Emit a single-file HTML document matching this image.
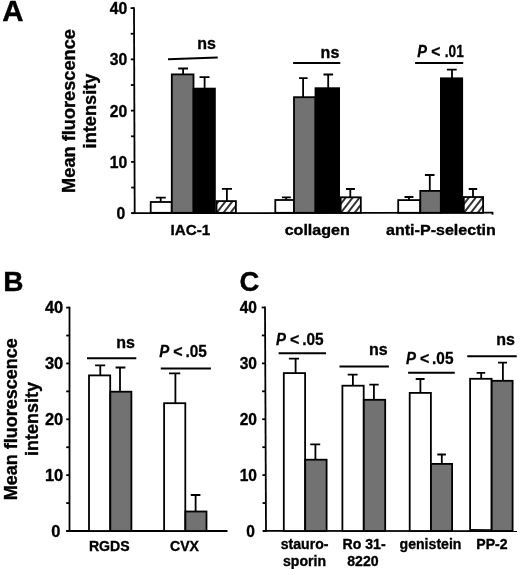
<!DOCTYPE html>
<html><head><meta charset="utf-8"><title>Figure</title>
<style>
html,body{margin:0;padding:0;background:#fff;overflow:hidden;}
svg{display:block;filter:blur(0.45px);}
text{font-family:"Liberation Sans",sans-serif;font-weight:bold;fill:#000;stroke:#000;}
</style></head>
<body>
<svg width="520" height="569" viewBox="0 0 520 569">
<rect width="520" height="569" fill="#fff"/>
<text transform="translate(2.20 21.20) scale(1.0 1)" font-size="29.5" text-anchor="start" stroke-width="0.35">A</text>
<line x1="134.00" y1="7.20" x2="134.70" y2="214.10" stroke="#000" stroke-width="1.8"/>
<line x1="131.30" y1="213.20" x2="134.70" y2="213.20" stroke="#000" stroke-width="1.8"/>
<line x1="131.21" y1="187.56" x2="134.61" y2="187.56" stroke="#000" stroke-width="1.8"/>
<line x1="131.12" y1="161.92" x2="134.52" y2="161.92" stroke="#000" stroke-width="1.8"/>
<line x1="131.04" y1="136.29" x2="134.44" y2="136.29" stroke="#000" stroke-width="1.8"/>
<line x1="130.95" y1="110.65" x2="134.35" y2="110.65" stroke="#000" stroke-width="1.8"/>
<line x1="130.86" y1="85.01" x2="134.26" y2="85.01" stroke="#000" stroke-width="1.8"/>
<line x1="130.78" y1="59.38" x2="134.18" y2="59.38" stroke="#000" stroke-width="1.8"/>
<line x1="130.69" y1="33.74" x2="134.09" y2="33.74" stroke="#000" stroke-width="1.8"/>
<line x1="130.60" y1="8.10" x2="134.00" y2="8.10" stroke="#000" stroke-width="1.8"/>
<line x1="131.30" y1="213.20" x2="493.30" y2="212.70" stroke="#000" stroke-width="1.8"/>
<line x1="492.50" y1="212.70" x2="492.50" y2="214.70" stroke="#000" stroke-width="1.8"/>
<text transform="translate(127.30 14.20) scale(1.0 1)" font-size="15.7" text-anchor="end" stroke-width="0.35">40</text>
<text transform="translate(127.30 65.42) scale(1.0 1)" font-size="15.7" text-anchor="end" stroke-width="0.35">30</text>
<text transform="translate(127.30 116.65) scale(1.0 1)" font-size="15.7" text-anchor="end" stroke-width="0.35">20</text>
<text transform="translate(127.30 167.88) scale(1.0 1)" font-size="15.7" text-anchor="end" stroke-width="0.35">10</text>
<text transform="translate(125.30 219.10) scale(1.0 1)" font-size="15.7" text-anchor="end" stroke-width="0.35">0</text>
<text transform="translate(75.10 111.00) rotate(-90) scale(1.0 1)" font-size="18.2" text-anchor="middle" stroke-width="0.35">Mean fluorescence</text>
<text transform="translate(96.00 111.00) rotate(-90) scale(1.0 1)" font-size="18.2" text-anchor="middle" stroke-width="0.35">intensity</text>
<rect x="150.70" y="202.00" width="21.00" height="10.80" fill="#fff" stroke="#000" stroke-width="1.8"/>
<path d="M160.70 202.10V197.60M155.90 197.60H165.80" fill="none" stroke="#000" stroke-width="1.8"/>
<rect x="171.80" y="74.40" width="21.70" height="138.40" fill="#727272" stroke="#000" stroke-width="1.8"/>
<path d="M183.10 74.50V68.50M178.20 68.50H188.00" fill="none" stroke="#000" stroke-width="1.8"/>
<rect x="193.60" y="88.60" width="21.30" height="124.20" fill="#000" stroke="#000" stroke-width="1.8"/>
<path d="M204.60 88.70V77.20M199.50 77.20H209.50" fill="none" stroke="#000" stroke-width="1.8"/>
<clipPath id="c26"><rect x="216.50" y="201.10" width="19.40" height="11.70"/></clipPath>
<rect x="216.50" y="201.10" width="19.40" height="11.70" fill="#fff"/>
<path d="M194.34 214.80L208.15 197.10M201.24 214.80L215.05 197.10M208.14 214.80L221.95 197.10M215.04 214.80L228.85 197.10M221.94 214.80L235.75 197.10M228.84 214.80L242.65 197.10M235.74 214.80L249.55 197.10" stroke="#333" stroke-width="2.0" fill="none" clip-path="url(#c26)"/>
<rect x="216.50" y="201.10" width="19.40" height="11.70" fill="none" stroke="#000" stroke-width="1.8"/>
<path d="M226.90 201.20V188.90M221.90 188.90H232.00" fill="none" stroke="#000" stroke-width="1.8"/>
<line x1="168.00" y1="59.20" x2="217.70" y2="57.60" stroke="#000" stroke-width="2.0"/>
<text transform="translate(215.90 49.00) scale(0.97 1)" font-size="16.5" text-anchor="end" stroke-width="0.35">ns</text>
<text transform="translate(190.30 235.00) scale(0.99 1)" font-size="15.4" text-anchor="middle" stroke-width="0.35">IAC-1</text>
<rect x="275.30" y="200.00" width="18.70" height="12.80" fill="#fff" stroke="#000" stroke-width="1.8"/>
<path d="M286.20 200.10V197.30M281.90 197.30H290.80" fill="none" stroke="#000" stroke-width="1.8"/>
<rect x="294.00" y="97.20" width="21.50" height="115.60" fill="#727272" stroke="#000" stroke-width="1.8"/>
<path d="M303.10 97.30V78.10M299.00 78.10H307.60" fill="none" stroke="#000" stroke-width="1.8"/>
<rect x="315.50" y="88.20" width="23.60" height="124.60" fill="#000" stroke="#000" stroke-width="1.8"/>
<path d="M328.20 88.30V74.50M323.50 74.50H333.10" fill="none" stroke="#000" stroke-width="1.8"/>
<clipPath id="c40"><rect x="340.70" y="197.30" width="20.10" height="15.50"/></clipPath>
<rect x="340.70" y="197.30" width="20.10" height="15.50" fill="#fff"/>
<path d="M318.54 214.80L335.31 193.30M325.44 214.80L342.21 193.30M332.34 214.80L349.11 193.30M339.24 214.80L356.01 193.30M346.14 214.80L362.91 193.30M353.04 214.80L369.81 193.30M359.94 214.80L376.71 193.30" stroke="#333" stroke-width="2.0" fill="none" clip-path="url(#c40)"/>
<rect x="340.70" y="197.30" width="20.10" height="15.50" fill="none" stroke="#000" stroke-width="1.8"/>
<path d="M350.30 197.40V189.00M346.00 189.00H354.90" fill="none" stroke="#000" stroke-width="1.8"/>
<line x1="293.10" y1="63.10" x2="340.30" y2="63.10" stroke="#000" stroke-width="2.0"/>
<text transform="translate(339.30 57.70) scale(0.97 1)" font-size="16.5" text-anchor="end" stroke-width="0.35">ns</text>
<text transform="translate(317.20 235.00) scale(1.05 1)" font-size="15.3" text-anchor="middle" stroke-width="0.35">collagen</text>
<rect x="398.20" y="200.10" width="22.00" height="12.70" fill="#fff" stroke="#000" stroke-width="1.8"/>
<path d="M409.00 200.20V197.00M404.50 197.00H413.40" fill="none" stroke="#000" stroke-width="1.8"/>
<rect x="420.30" y="190.90" width="20.50" height="21.90" fill="#727272" stroke="#000" stroke-width="1.8"/>
<path d="M429.80 191.00V175.00M424.90 175.00H434.50" fill="none" stroke="#000" stroke-width="1.8"/>
<rect x="440.90" y="78.30" width="21.30" height="134.50" fill="#000" stroke="#000" stroke-width="1.8"/>
<path d="M452.00 78.40V69.60M446.90 69.60H456.70" fill="none" stroke="#000" stroke-width="1.8"/>
<clipPath id="c54"><rect x="463.80" y="197.05" width="19.30" height="15.75"/></clipPath>
<rect x="463.80" y="197.05" width="19.30" height="15.75" fill="#fff"/>
<path d="M441.64 214.80L458.61 193.05M448.54 214.80L465.50 193.05M455.44 214.80L472.40 193.05M462.34 214.80L479.30 193.05M469.24 214.80L486.20 193.05M476.14 214.80L493.10 193.05M483.04 214.80L500.00 193.05" stroke="#333" stroke-width="2.0" fill="none" clip-path="url(#c54)"/>
<rect x="463.80" y="197.05" width="19.30" height="15.75" fill="none" stroke="#000" stroke-width="1.8"/>
<path d="M473.00 197.15V189.00M468.70 189.00H477.20" fill="none" stroke="#000" stroke-width="1.8"/>
<line x1="415.10" y1="62.90" x2="463.20" y2="62.90" stroke="#000" stroke-width="2.0"/>
<text transform="translate(417.20 57.20) scale(0.93 1)" font-size="15.7" text-anchor="start" stroke-width="0.3"><tspan font-style="italic">P</tspan></text>
<text transform="translate(431.20 57.20) scale(1.0 1)" font-size="15.7" text-anchor="start" stroke-width="0.3">&lt;</text>
<text transform="translate(444.80 57.20) scale(0.87 1)" font-size="15.7" text-anchor="start" stroke-width="0.3">.01</text>
<text transform="translate(440.90 234.80) scale(1.05 1)" font-size="15.3" text-anchor="middle" stroke-width="0.35">anti-P-selectin</text>
<text transform="translate(3.20 291.30) scale(1.02 1)" font-size="27.5" text-anchor="start" stroke-width="0.35">B</text>
<line x1="69.50" y1="306.70" x2="69.50" y2="531.90" stroke="#000" stroke-width="1.8"/>
<line x1="66.20" y1="531.00" x2="69.50" y2="531.00" stroke="#000" stroke-width="1.8"/>
<line x1="66.20" y1="503.07" x2="69.50" y2="503.07" stroke="#000" stroke-width="1.8"/>
<line x1="66.20" y1="475.15" x2="69.50" y2="475.15" stroke="#000" stroke-width="1.8"/>
<line x1="66.20" y1="447.23" x2="69.50" y2="447.23" stroke="#000" stroke-width="1.8"/>
<line x1="66.20" y1="419.30" x2="69.50" y2="419.30" stroke="#000" stroke-width="1.8"/>
<line x1="66.20" y1="391.38" x2="69.50" y2="391.38" stroke="#000" stroke-width="1.8"/>
<line x1="66.20" y1="363.45" x2="69.50" y2="363.45" stroke="#000" stroke-width="1.8"/>
<line x1="66.20" y1="335.53" x2="69.50" y2="335.53" stroke="#000" stroke-width="1.8"/>
<line x1="66.20" y1="307.60" x2="69.50" y2="307.60" stroke="#000" stroke-width="1.8"/>
<line x1="66.20" y1="531.00" x2="227.50" y2="531.00" stroke="#000" stroke-width="1.8"/>
<text transform="translate(63.30 313.20) scale(0.97 1)" font-size="17.0" text-anchor="end" stroke-width="0.35">40</text>
<text transform="translate(63.30 369.05) scale(0.97 1)" font-size="17.0" text-anchor="end" stroke-width="0.35">30</text>
<text transform="translate(63.30 424.90) scale(0.97 1)" font-size="17.0" text-anchor="end" stroke-width="0.35">20</text>
<text transform="translate(63.30 480.75) scale(0.97 1)" font-size="17.0" text-anchor="end" stroke-width="0.35">10</text>
<text transform="translate(60.50 536.60) scale(0.97 1)" font-size="17.0" text-anchor="end" stroke-width="0.35">0</text>
<text transform="translate(17.10 419.30) rotate(-90) scale(1.0 1)" font-size="18.0" text-anchor="middle" stroke-width="0.35">Mean fluorescence</text>
<text transform="translate(38.20 419.00) rotate(-90) scale(1.0 1)" font-size="18.0" text-anchor="middle" stroke-width="0.35">intensity</text>
<rect x="89.00" y="375.40" width="21.20" height="155.60" fill="#fff" stroke="#000" stroke-width="1.8"/>
<path d="M100.30 375.50V365.30M95.10 365.30H105.20" fill="none" stroke="#000" stroke-width="1.8"/>
<rect x="110.30" y="391.70" width="21.10" height="139.30" fill="#727272" stroke="#000" stroke-width="1.8"/>
<path d="M120.00 391.80V367.50M115.60 367.50H125.40" fill="none" stroke="#000" stroke-width="1.8"/>
<line x1="87.00" y1="358.20" x2="136.30" y2="358.20" stroke="#000" stroke-width="2.0"/>
<text transform="translate(134.90 348.00) scale(0.97 1)" font-size="16.5" text-anchor="end" stroke-width="0.35">ns</text>
<rect x="164.10" y="403.20" width="21.20" height="127.80" fill="#fff" stroke="#000" stroke-width="1.8"/>
<path d="M175.40 403.30V373.40M169.00 373.40H180.30" fill="none" stroke="#000" stroke-width="1.8"/>
<rect x="185.40" y="511.50" width="21.10" height="19.50" fill="#727272" stroke="#000" stroke-width="1.8"/>
<path d="M195.60 511.60V495.00M190.80 495.00H200.40" fill="none" stroke="#000" stroke-width="1.8"/>
<line x1="160.80" y1="368.50" x2="210.90" y2="368.50" stroke="#000" stroke-width="2.0"/>
<text transform="translate(159.30 357.00) scale(0.88 1)" font-size="17.0" text-anchor="start" stroke-width="0.3"><tspan font-style="italic">P</tspan></text>
<text transform="translate(173.30 357.00) scale(0.94 1)" font-size="17.0" text-anchor="start" stroke-width="0.3">&lt;</text>
<text transform="translate(185.50 357.00) scale(0.905 1)" font-size="17.0" text-anchor="start" stroke-width="0.3">.05</text>
<text transform="translate(109.30 550.50) scale(0.98 1)" font-size="14.4" text-anchor="middle" stroke-width="0.35">RGDS</text>
<text transform="translate(184.50 550.50) scale(0.98 1)" font-size="14.4" text-anchor="middle" stroke-width="0.35">CVX</text>
<text transform="translate(239.40 291.20) scale(1.0 1)" font-size="27.5" text-anchor="start" stroke-width="0.35">C</text>
<line x1="265.00" y1="306.60" x2="266.00" y2="531.90" stroke="#000" stroke-width="1.8"/>
<line x1="262.70" y1="531.00" x2="266.00" y2="531.00" stroke="#000" stroke-width="1.8"/>
<line x1="262.58" y1="503.06" x2="265.88" y2="503.06" stroke="#000" stroke-width="1.8"/>
<line x1="262.45" y1="475.12" x2="265.75" y2="475.12" stroke="#000" stroke-width="1.8"/>
<line x1="262.33" y1="447.19" x2="265.62" y2="447.19" stroke="#000" stroke-width="1.8"/>
<line x1="262.20" y1="419.25" x2="265.50" y2="419.25" stroke="#000" stroke-width="1.8"/>
<line x1="262.08" y1="391.31" x2="265.38" y2="391.31" stroke="#000" stroke-width="1.8"/>
<line x1="261.95" y1="363.38" x2="265.25" y2="363.38" stroke="#000" stroke-width="1.8"/>
<line x1="261.83" y1="335.44" x2="265.12" y2="335.44" stroke="#000" stroke-width="1.8"/>
<line x1="261.70" y1="307.50" x2="265.00" y2="307.50" stroke="#000" stroke-width="1.8"/>
<line x1="262.80" y1="530.80" x2="517.00" y2="531.20" stroke="#000" stroke-width="1.8"/>
<text transform="translate(257.00 313.00) scale(0.915 1)" font-size="17.0" text-anchor="end" stroke-width="0.35">40</text>
<text transform="translate(257.00 368.88) scale(0.915 1)" font-size="17.0" text-anchor="end" stroke-width="0.35">30</text>
<text transform="translate(257.00 424.75) scale(0.915 1)" font-size="17.0" text-anchor="end" stroke-width="0.35">20</text>
<text transform="translate(257.00 480.62) scale(0.915 1)" font-size="17.0" text-anchor="end" stroke-width="0.35">10</text>
<text transform="translate(255.00 536.50) scale(0.915 1)" font-size="17.0" text-anchor="end" stroke-width="0.35">0</text>
<rect x="283.80" y="373.10" width="21.30" height="157.90" fill="#fff" stroke="#000" stroke-width="1.8"/>
<path d="M295.60 373.20V358.60M288.90 358.60H299.00" fill="none" stroke="#000" stroke-width="1.8"/>
<rect x="305.20" y="459.70" width="21.40" height="71.30" fill="#727272" stroke="#000" stroke-width="1.8"/>
<path d="M315.40 459.80V444.40M310.20 444.40H320.20" fill="none" stroke="#000" stroke-width="1.8"/>
<line x1="278.60" y1="353.20" x2="326.00" y2="353.20" stroke="#000" stroke-width="2.0"/>
<text transform="translate(276.00 345.20) scale(0.88 1)" font-size="17.0" text-anchor="start" stroke-width="0.3"><tspan font-style="italic">P</tspan></text>
<text transform="translate(290.00 345.20) scale(0.94 1)" font-size="17.0" text-anchor="start" stroke-width="0.3">&lt;</text>
<text transform="translate(302.20 345.20) scale(0.905 1)" font-size="17.0" text-anchor="start" stroke-width="0.3">.05</text>
<text transform="translate(304.60 549.20) scale(0.98 1)" font-size="14.4" text-anchor="middle" stroke-width="0.35">stauro-</text>
<text transform="translate(304.50 565.90) scale(0.98 1)" font-size="14.4" text-anchor="middle" stroke-width="0.35">sporin</text>
<rect x="342.40" y="385.70" width="21.30" height="145.30" fill="#fff" stroke="#000" stroke-width="1.8"/>
<path d="M352.90 385.80V374.70M347.70 374.70H357.60" fill="none" stroke="#000" stroke-width="1.8"/>
<rect x="363.80" y="399.80" width="21.40" height="131.20" fill="#727272" stroke="#000" stroke-width="1.8"/>
<path d="M373.90 399.90V384.70M369.30 384.70H378.70" fill="none" stroke="#000" stroke-width="1.8"/>
<line x1="339.50" y1="366.60" x2="388.90" y2="366.60" stroke="#000" stroke-width="2.0"/>
<text transform="translate(387.60 355.40) scale(0.97 1)" font-size="16.5" text-anchor="end" stroke-width="0.35">ns</text>
<text transform="translate(364.10 549.40) scale(0.98 1)" font-size="14.4" text-anchor="middle" stroke-width="0.35">Ro 31-</text>
<text transform="translate(362.90 566.00) scale(0.98 1)" font-size="14.4" text-anchor="middle" stroke-width="0.35">8220</text>
<rect x="409.70" y="392.90" width="21.20" height="138.10" fill="#fff" stroke="#000" stroke-width="1.8"/>
<path d="M420.40 393.00V379.00M415.70 379.00H424.60" fill="none" stroke="#000" stroke-width="1.8"/>
<rect x="431.00" y="463.90" width="21.10" height="67.10" fill="#727272" stroke="#000" stroke-width="1.8"/>
<path d="M441.80 464.00V454.50M437.30 454.50H445.90" fill="none" stroke="#000" stroke-width="1.8"/>
<line x1="408.10" y1="372.70" x2="454.80" y2="372.70" stroke="#000" stroke-width="2.0"/>
<text transform="translate(405.90 364.40) scale(0.88 1)" font-size="17.0" text-anchor="start" stroke-width="0.3"><tspan font-style="italic">P</tspan></text>
<text transform="translate(419.90 364.40) scale(0.94 1)" font-size="17.0" text-anchor="start" stroke-width="0.3">&lt;</text>
<text transform="translate(432.10 364.40) scale(0.905 1)" font-size="17.0" text-anchor="start" stroke-width="0.3">.05</text>
<text transform="translate(430.50 549.20) scale(0.98 1)" font-size="14.4" text-anchor="middle" stroke-width="0.35">genistein</text>
<rect x="470.10" y="378.80" width="21.50" height="152.20" fill="#fff" stroke="#000" stroke-width="1.8"/>
<path d="M481.20 378.90V372.80M476.60 372.80H485.20" fill="none" stroke="#000" stroke-width="1.8"/>
<rect x="491.70" y="380.80" width="20.90" height="150.20" fill="#727272" stroke="#000" stroke-width="1.8"/>
<path d="M502.90 380.90V362.70M498.00 362.70H507.00" fill="none" stroke="#000" stroke-width="1.8"/>
<line x1="467.20" y1="356.30" x2="516.70" y2="356.30" stroke="#000" stroke-width="2.0"/>
<line x1="470.50" y1="529.60" x2="491.50" y2="529.90" stroke="#000" stroke-width="1.2"/>
<text transform="translate(515.00 345.00) scale(0.97 1)" font-size="16.5" text-anchor="end" stroke-width="0.35">ns</text>
<text transform="translate(491.90 549.40) scale(0.98 1)" font-size="14.4" text-anchor="middle" stroke-width="0.35">PP-2</text>
</svg>
</body></html>
